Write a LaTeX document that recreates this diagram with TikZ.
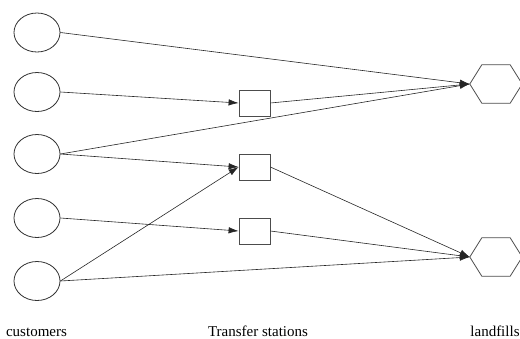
\documentclass[tikz,border=0pt]{standalone}
\usepackage{fontspec}
\setmainfont{Liberation Serif}
\usetikzlibrary{arrows.meta,shapes.geometric}
\begin{document}
\begin{tikzpicture}[x=1pt,y=-1pt,
  cust/.style={draw=black!80, line width=0.8pt, ellipse, minimum width=46pt, minimum height=39pt, inner sep=0pt},
  stat/.style={draw=black!70, line width=0.8pt, rectangle, minimum width=31pt, minimum height=26pt, inner sep=0pt},
  land/.style={draw=none, rectangle, minimum width=52pt, minimum height=38pt, inner sep=0pt},
  hexline/.style={draw=black!70, line width=0.8pt},
  conn/.style={draw=black!85, line width=0.6pt},
  arr/.style={conn, -{Latex[length=10pt,width=6.5pt]}},
  lab/.style={font=\fontsize{15}{18}\selectfont, inner sep=0pt, anchor=base}
]
\useasboundingbox (0,0) rectangle (520,338);
% customers
\node[cust] (c1) at (37,32.5) {};
\node[cust] (c2) at (37,92) {};
\node[cust] (c3) at (37,154) {};
\node[cust] (c4) at (37,218) {};
\node[cust] (c5) at (37,281) {};
% transfer stations
\node[stat] (s1) at (254.5,103) {};
\node[stat] (s2) at (254.5,167) {};
\node[stat] (s3) at (254.5,231) {};
% landfills
\node[land] (h1) at (496,84) {};
\node[land] (h2) at (496,257) {};
\foreach \h in {h1,h2}{
  \draw[hexline] (\h.west) -- ([xshift=12pt]\h.north west) -- ([xshift=-12pt]\h.north east)
    -- (\h.east) -- ([xshift=-12pt]\h.south east) -- ([xshift=12pt]\h.south west) -- cycle;
}
% connectors
\draw[arr] (c1.east) -- (h1.west);
\draw[arr] (c2.east) -- (s1.west);
\draw[arr] (c3.east) -- (h1.west);
\draw[arr] (s1.east) -- (h1.west);
\draw[arr] (c3.east) -- (s2.west);
\draw[arr] (c5.east) -- (s2.west);
\draw[arr] (s2.east) -- (h2.west);
\draw[arr] (c4.east) -- (s3.west);
\draw[arr] (s3.east) -- (h2.west);
\draw[arr] (c5.east) -- (h2.west);
% labels
\node[lab] (tc) at (36.5,336) {customers};
\node[lab] (tt) at (258,336) {Transfer stations};
\node[lab] (tl) at (495,336) {landfills};
\end{tikzpicture}
\end{document}
